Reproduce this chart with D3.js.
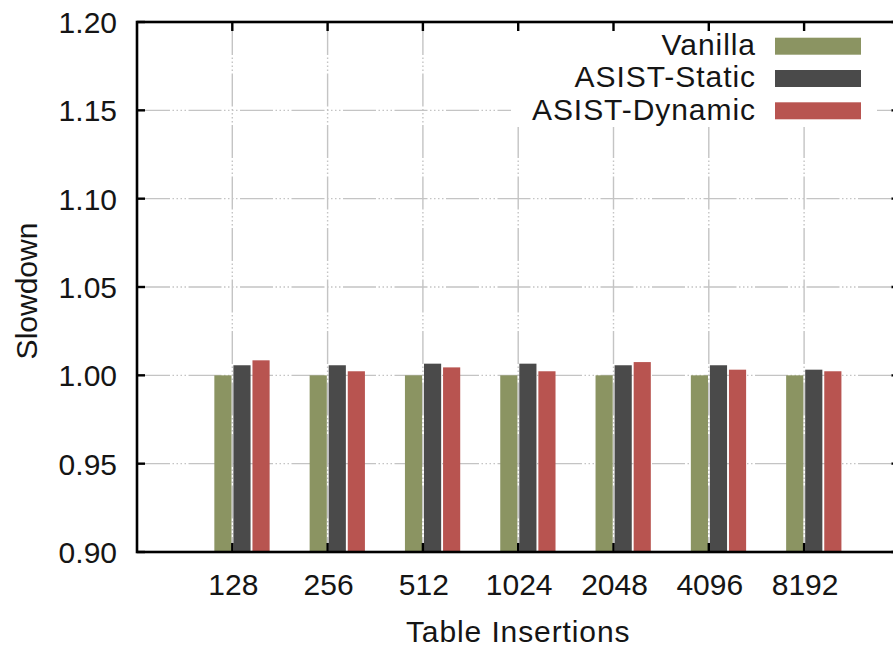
<!DOCTYPE html>
<html>
<head>
<meta charset="utf-8">
<script src="https://cdn.jsdelivr.net/npm/d3@7"></script>
<style>
  html, body { margin: 0; padding: 0; background: #fff; }
  svg { display: block; }
  text { font-family: "Liberation Sans", Arial, Helvetica, sans-serif; fill: #151515; }
</style>
</head>
<body>
<svg id="chart" width="893" height="648"></svg>
<script>
// ---- data ----
const categories = ["128", "256", "512", "1024", "2048", "4096", "8192"];
const seriesNames = ["Vanilla", "ASIST-Static", "ASIST-Dynamic"];
const vanilla      = [1.000, 1.000, 1.000, 1.000, 1.000, 1.000, 1.000];
const asistStatic  = [1.0057, 1.0057, 1.0066, 1.0066, 1.0057, 1.0057, 1.0032];
const asistDynamic = [1.0085, 1.0023, 1.0045, 1.0023, 1.0075, 1.0032, 1.0023];
const yTicks = [0.90, 0.95, 1.00, 1.05, 1.10, 1.15, 1.20];
const seriesColors = ["#8b9462", "#4a4a4a", "#b85450"];
const xTitle = "Table Insertions";
const yTitle = "Slowdown";

const series = [vanilla, asistStatic, asistDynamic];

// ---- layout ----
const svg = d3.select("#chart");
const pLeft = 137, pRight = 899.4, pTop = 22, pBottom = 552;
const x = d3.scaleLinear().domain([-1, 7]).range([pLeft, pRight]);
const y = d3.scaleLinear().domain([0.90, 1.20]).range([pBottom, pTop]);
const slot = 0.2;
const offsets = [-0.2, 0, 0.2];
const gridDash = "33 2.5 1.5 2.5 1.5 2.5 1.5 2.5 1.5 2.5";

// grid
const grid = svg.append("g").attr("stroke", "#c4c4c4").attr("stroke-width", 1.4)
  .attr("stroke-dasharray", gridDash).attr("fill", "none");
grid.selectAll("line.h").data(yTicks.slice(1, -1)).join("line")
  .attr("x1", pLeft).attr("x2", pRight)
  .attr("y1", d => y(d)).attr("y2", d => y(d));
grid.selectAll("line.v").data(categories).join("line")
  .attr("x1", (d, i) => x(i)).attr("x2", (d, i) => x(i))
  .attr("y1", pTop).attr("y2", pBottom);

// bars
series.forEach((vals, s) => {
  svg.append("g").selectAll("rect").data(vals).join("rect")
    .attr("x", (d, i) => x(i + offsets[s]) + 1.1)
    .attr("width", x(slot) - x(0) - 1.9)
    .attr("y", d => y(d))
    .attr("height", d => y(0.90) - y(d))
    .attr("fill", seriesColors[s]);
});

// legend background (blanks grid)
svg.append("rect").attr("x", 511).attr("y", 27).attr("width", 366).attr("height", 100)
  .attr("fill", "#fff");
const legend = svg.append("g");
seriesNames.forEach((name, k) => {
  const base = 55 + 32.3 * k;
  legend.append("text").attr("x", 756).attr("y", base)
    .attr("text-anchor", "end").attr("font-size", 30)
    .attr("letter-spacing", 0.95).text(name);
  legend.append("rect").attr("x", 775).attr("y", base - 17.3)
    .attr("width", 86).attr("height", 17).attr("fill", seriesColors[k]);
});

// axes frame
svg.append("rect").attr("x", pLeft).attr("y", pTop)
  .attr("width", pRight - pLeft).attr("height", pBottom - pTop)
  .attr("fill", "none").attr("stroke", "#000").attr("stroke-width", 2.6);

// ticks (inward, mirrored)
const ticks = svg.append("g").attr("stroke", "#000").attr("stroke-width", 2.4);
ticks.selectAll("line.yl").data(yTicks).join("line")
  .attr("x1", pLeft).attr("x2", pLeft + 8).attr("y1", d => y(d)).attr("y2", d => y(d));
ticks.selectAll("line.yr").data(yTicks).join("line")
  .attr("x1", pRight).attr("x2", pRight - 8).attr("y1", d => y(d)).attr("y2", d => y(d));
ticks.selectAll("line.xb").data(categories).join("line")
  .attr("x1", (d, i) => x(i)).attr("x2", (d, i) => x(i)).attr("y1", pBottom).attr("y2", pBottom - 9);
ticks.selectAll("line.xt").data(categories).join("line")
  .attr("x1", (d, i) => x(i)).attr("x2", (d, i) => x(i)).attr("y1", pTop).attr("y2", pTop + 9);

// tick labels
svg.append("g").selectAll("text").data(yTicks).join("text")
  .attr("x", 117).attr("y", d => y(d) + 11).attr("text-anchor", "end")
  .attr("font-size", 30).text(d => d3.format(".2f")(d));
svg.append("g").selectAll("text").data(categories).join("text")
  .attr("x", (d, i) => x(i) + 1).attr("y", 595).attr("text-anchor", "middle")
  .attr("font-size", 30).text(d => d);

// titles
svg.append("text").attr("x", (pLeft + pRight) / 2).attr("y", 642)
  .attr("text-anchor", "middle").attr("font-size", 30)
  .attr("letter-spacing", 0.9).text(xTitle);
svg.append("text").attr("transform", "translate(37,291) rotate(-90)")
  .attr("text-anchor", "middle").attr("font-size", 30).text(yTitle);
</script>
</body>
</html>
